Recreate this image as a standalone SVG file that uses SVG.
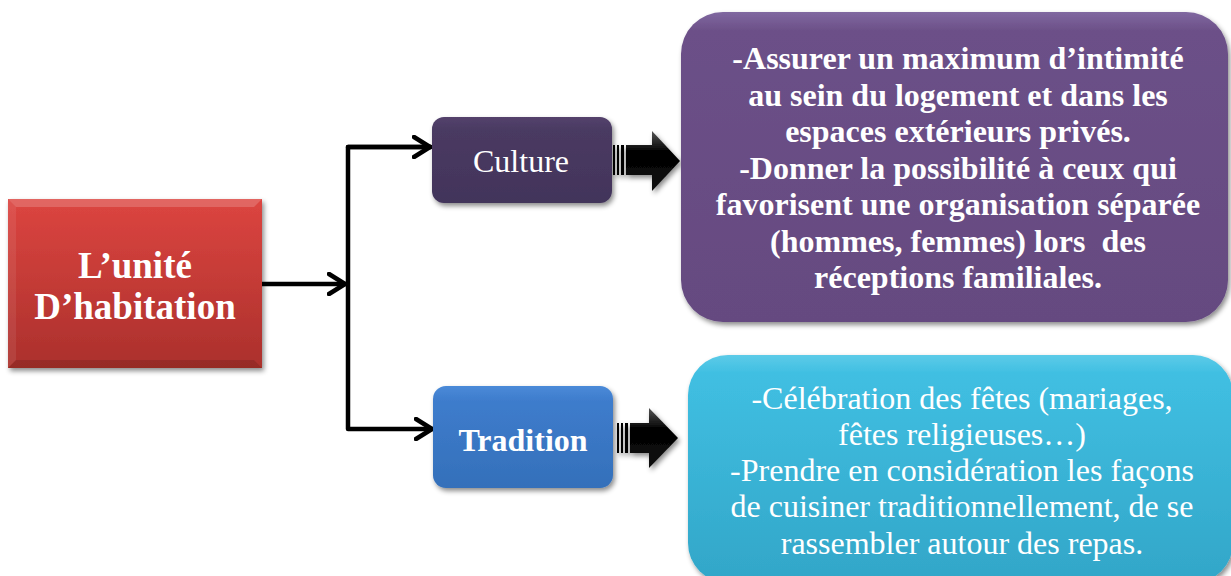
<svg xmlns="http://www.w3.org/2000/svg" width="1231" height="576" viewBox="0 0 1231 576">
<defs>
<style>
.conn{fill:none;stroke:#000;stroke-width:4.5;stroke-linecap:round;stroke-linejoin:round}
.wt{fill:#fff;font-family:"Liberation Serif","Times New Roman",serif;text-anchor:middle}
.b{font-weight:bold}
</style>
<filter id="sh" x="-10%" y="-10%" width="130%" height="130%">
<feDropShadow dx="2" dy="3" stdDeviation="2.5" flood-color="#000" flood-opacity="0.45"/>
</filter>
<linearGradient id="gRed" x1="0" y1="0" x2="0" y2="1">
<stop offset="0" stop-color="#dc4540"/><stop offset="1" stop-color="#ab302c"/>
</linearGradient>
<linearGradient id="gCul" x1="0" y1="0" x2="0" y2="1">
<stop offset="0" stop-color="#54426c"/><stop offset="0.15" stop-color="#4a3a62"/><stop offset="1" stop-color="#42345a"/>
</linearGradient>
<linearGradient id="gTra" x1="0" y1="0" x2="0" y2="1">
<stop offset="0" stop-color="#4a8ad8"/><stop offset="0.15" stop-color="#3e7ccc"/><stop offset="1" stop-color="#3470ba"/>
</linearGradient>
<linearGradient id="gPur" x1="0" y1="0" x2="0" y2="1">
<stop offset="0" stop-color="#8068a0"/><stop offset="0.06" stop-color="#6c5088"/><stop offset="1" stop-color="#654a80"/>
</linearGradient>
<linearGradient id="gCy" x1="0" y1="0" x2="0" y2="1">
<stop offset="0" stop-color="#5ccbe8"/><stop offset="0.08" stop-color="#40bfe2"/><stop offset="1" stop-color="#32a6c8"/>
</linearGradient>
<linearGradient id="gArr" x1="0" y1="0" x2="0" y2="1">
<stop offset="0" stop-color="#555"/><stop offset="0.35" stop-color="#000"/><stop offset="1" stop-color="#111"/>
</linearGradient>
<marker id="chev" viewBox="0 0 20 24" refX="18" refY="12" markerWidth="20" markerHeight="24" markerUnits="userSpaceOnUse" orient="auto">
<path d="M2 2 L18 12 L2 22" fill="none" stroke="#000" stroke-width="4.5" stroke-linecap="round" stroke-linejoin="round"/>
</marker>
</defs>
<rect width="1231" height="576" fill="#fff"/>

<g id="connectors">
<path class="conn" d="M262 284 H345" marker-end="url(#chev)"/>
<path class="conn" d="M431 147 H348 V429 H432" marker-end="url(#chev)"/>
<path class="conn" d="M348 147 H430" marker-end="url(#chev)"/>
<g id="arrow-culture" filter="url(#sh)">
<rect x="613" y="145" width="2" height="30" fill="#000"/>
<rect x="617" y="145" width="2" height="30" fill="#000"/>
<rect x="621" y="145" width="3" height="30" fill="#000"/>
<path d="M626 145 H652 V131 L680 161 L652 191 V175 H626 Z" fill="url(#gArr)"/>
</g>
<g id="arrow-tradition" filter="url(#sh)">
<rect x="617" y="423" width="2" height="30" fill="#000"/>
<rect x="621" y="423" width="2" height="30" fill="#000"/>
<rect x="625" y="423" width="3" height="30" fill="#000"/>
<path d="M630 423 H649 V408 L678 438 L649 468 V453 H630 Z" fill="url(#gArr)"/>
</g>
</g>

<g id="node-unite">
<rect x="8" y="199" width="254" height="169" fill="url(#gRed)" filter="url(#sh)"/>
<path d="M8 199 H262 L254 207 H16 Z" fill="#fff" opacity="0.18"/>
<path d="M8 199 L16 207 V360 L8 368 Z" fill="#fff" opacity="0.08"/>
<path d="M8 368 H262 L254 360 H16 Z" fill="#000" opacity="0.12"/>
<text class="wt b" x="135" y="278" font-size="37">L’unité</text>
<text class="wt b" x="135" y="319" font-size="37">D’habitation</text>
</g>

<g id="node-culture">
<rect x="432" y="117" width="180" height="86" rx="12" fill="url(#gCul)" filter="url(#sh)"/>
<text class="wt" x="521" y="172" font-size="32">Culture</text>
</g>

<g id="node-tradition">
<rect x="433" y="386" width="180" height="102" rx="13" fill="url(#gTra)" filter="url(#sh)"/>
<text class="wt b" x="523" y="451" font-size="32">Tradition</text>
</g>

<g id="node-culture-detail">
<rect x="681" y="12" width="547" height="310" rx="42" fill="url(#gPur)" filter="url(#sh)"/>
<g class="wt b" font-size="32">
<text x="958" y="69">-Assurer un maximum d’intimité</text>
<text x="958" y="106">au sein du logement et dans les</text>
<text x="958" y="142">espaces extérieurs privés.</text>
<text x="958" y="179">-Donner la possibilité à ceux qui</text>
<text x="958" y="215">favorisent une organisation séparée</text>
<text x="958" y="252" xml:space="preserve">(hommes, femmes) lors  des</text>
<text x="958" y="288">réceptions familiales.</text>
</g>
</g>

<g id="node-tradition-detail">
<rect x="688" y="355" width="545" height="228" rx="40" fill="url(#gCy)" filter="url(#sh)"/>
<g class="wt" font-size="32">
<text x="962" y="409">-Célébration des fêtes (mariages,</text>
<text x="962" y="445">fêtes religieuses…)</text>
<text x="962" y="481">-Prendre en considération les façons</text>
<text x="962" y="517">de cuisiner traditionnellement, de se</text>
<text x="962" y="554">rassembler autour des repas.</text>
</g>
</g>
</svg>
